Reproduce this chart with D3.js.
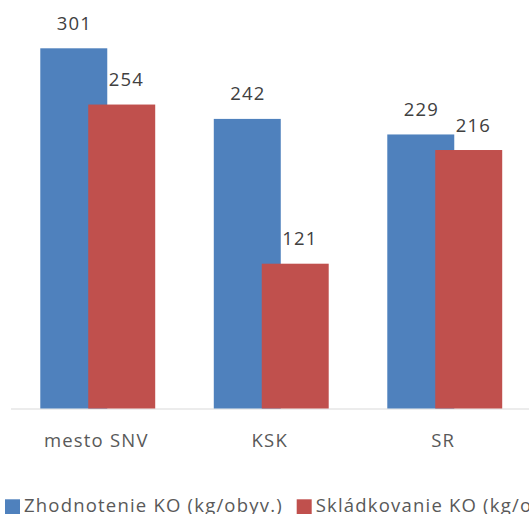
<!DOCTYPE html>
<html><head><meta charset="utf-8">
<script src="https://cdn.jsdelivr.net/npm/d3@7"></script>
<style>html,body{margin:0;padding:0;background:#fff;overflow:hidden}</style>
</head><body>
<svg id="c" width="529" height="514"></svg>
<script>
const categories = ["mesto SNV", "KSK", "SR"];
const seriesNames = ["Zhodnotenie KO (kg/obyv.)", "Skládkovanie KO (kg/obyv.)"];
const zhodnotenie = [301, 242, 229];
const skladkovanie = [254, 121, 216];
const colors = ["#4f81bd", "#c0504d"];

const svg = d3.select("#c");
const font = "'Open Sans', sans-serif";
const ls = 1.2;
const baseY = 408.5;
const y = d3.scaleLinear().domain([0, 301]).range([baseY, 48.3]);
const x = d3.scaleBand().domain(categories).range([11, 531.5]).paddingInner(0).paddingOuter(0);
const bw = x.bandwidth();
const barW = bw * 0.386;
const step = barW * 0.716;
const groupW = step + barW;
const series = [zhodnotenie, skladkovanie];

// axis line
svg.append("line").attr("x1", 11).attr("x2", 529).attr("y1", baseY + 0.5).attr("y2", baseY + 0.5)
  .attr("stroke", "#d9d9d9").attr("stroke-width", 1);

series.forEach((vals, si) => {
  const g = svg.append("g");
  g.selectAll("rect").data(vals).join("rect")
    .attr("x", (d, i) => x(categories[i]) + (bw - groupW) / 2 + si * step)
    .attr("width", barW)
    .attr("y", d => y(d))
    .attr("height", d => baseY - y(d))
    .attr("fill", colors[si]);
});
series.forEach((vals, si) => {
  svg.append("g").selectAll("text").data(vals).join("text")
    .attr("x", (d, i) => x(categories[i]) + (bw - groupW) / 2 + si * step + barW / 2 + (si ? 4 : 0) + ls / 2)
    .attr("y", d => y(d) - 18.5)
    .attr("text-anchor", "middle")
    .attr("font-family", font).attr("font-size", 18.5).attr("letter-spacing", ls).attr("fill", "#404040")
    .text(d => d);
});

const xAxis = d3.axisBottom(x).tickSize(0).tickPadding(0);
const ag = svg.append("g").attr("transform", `translate(-1.5,${baseY})`).call(xAxis);
ag.select(".domain").remove();
ag.selectAll("text").attr("y", 38.5).attr("dy", 0)
  .attr("font-family", font).attr("font-size", 18.5).attr("letter-spacing", ls).attr("fill", "#595959");

// legend
const leg = svg.append("g");
const legX = [5, 296.7];
seriesNames.forEach((n, i) => {
  leg.append("rect").attr("x", legX[i]).attr("y", 499.3).attr("width", 15).attr("height", 15).attr("fill", colors[i]);
  leg.append("text").attr("x", legX[i] + 19).attr("y", 511.5)
    .attr("font-family", font).attr("font-size", 18.5).attr("letter-spacing", ls).attr("fill", "#595959").text(n);
});
</script>
</body></html>
